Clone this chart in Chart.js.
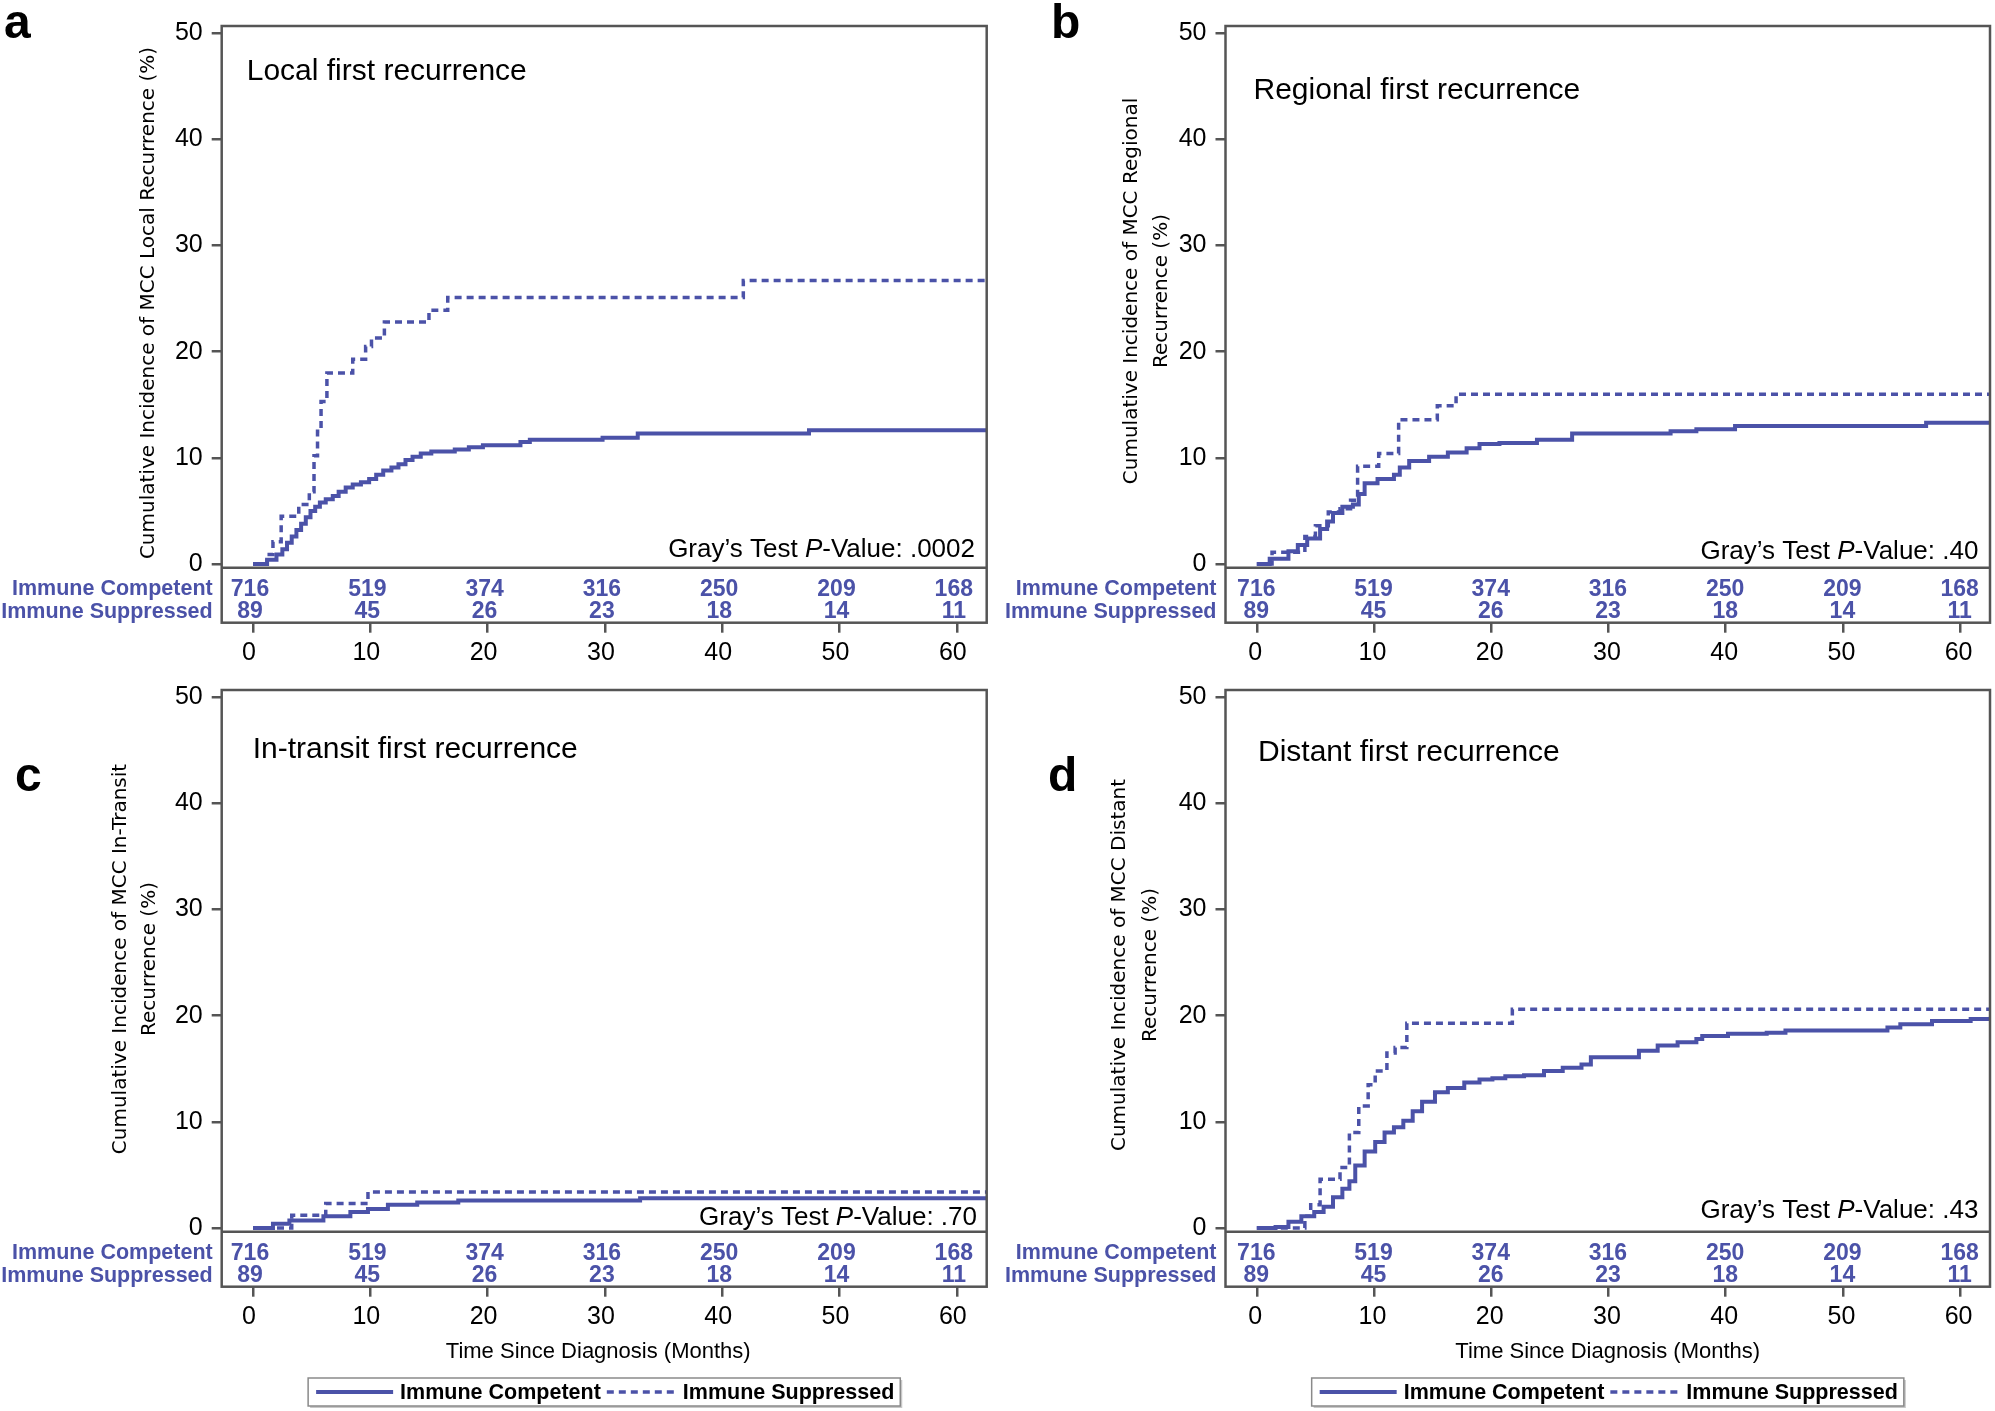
<!DOCTYPE html>
<html>
<head>
<meta charset="utf-8">
<title>MCC first recurrence by immune status</title>
<script src="https://cdn.jsdelivr.net/npm/chart.js@4.4.1/dist/chart.umd.min.js"></script>
<style>
    html, body { margin: 0; padding: 0; background: #fff; }
    #fig { position: relative; width: 1995px; height: 1411px; overflow: hidden; background: #fff; }
    #fig canvas { position: absolute; }
</style>
</head>
<body>
<div id="fig">
    <canvas id="panelA" width="997" height="664" style="left:0px;top:0px"></canvas>
    <canvas id="panelB" width="998" height="664" style="left:997px;top:0px"></canvas>
    <canvas id="panelC" width="997" height="747" style="left:0px;top:664px"></canvas>
    <canvas id="panelD" width="998" height="747" style="left:997px;top:664px"></canvas>
</div>
<script>
// ------------------------------------------------------------
// Data
// ------------------------------------------------------------
const groupNames = ['Immune Competent', 'Immune Suppressed'];
const xTicks = [0, 10, 20, 30, 40, 50, 60];
const yTicks = [0, 10, 20, 30, 40, 50];
const atRiskCompetent = [716, 519, 374, 316, 250, 209, 168];
const atRiskSuppressed = [89, 45, 26, 23, 18, 14, 11];

// a - local
const localCompMonths = [0, 1.2, 2.0, 2.5, 2.9, 3.3, 3.7, 4.1, 4.5, 4.9, 5.3, 5.7, 6.2, 6.8, 7.3, 7.9, 8.5, 9.2, 9.9, 10.5, 11.1, 11.8, 12.4, 13.0, 13.6, 14.3, 15.2, 17.2, 18.4, 19.6, 22.8, 23.6, 29.8, 32.8, 47.4, 62.6];
const localCompPct    = [0, 0.4, 0.9, 1.4, 2.0, 2.6, 3.2, 3.8, 4.4, 5.0, 5.4, 5.8, 6.1, 6.4, 6.8, 7.2, 7.5, 7.7, 8.0, 8.4, 8.8, 9.1, 9.4, 9.8, 10.1, 10.4, 10.6, 10.8, 11.0, 11.2, 11.5, 11.7, 11.9, 12.3, 12.6, 12.6];
const localSuppMonths = [0, 1.2, 1.7, 2.4, 3.9, 4.8, 5.2, 5.5, 5.8, 6.3, 8.5, 9.6, 10.1, 11.2, 15.0, 16.6, 41.8, 62.6];
const localSuppPct    = [0, 0.9, 2.1, 4.5, 5.6, 6.8, 10.2, 12.5, 15.3, 18.0, 19.3, 20.5, 21.3, 22.8, 23.9, 25.1, 26.7, 26.7];

// b - regional
const regionalCompMonths = [0, 1.1, 2.7, 3.5, 4.3, 5.4, 6.0, 6.5, 7.3, 8.2, 8.7, 9.2, 10.3, 11.7, 12.2, 13.0, 14.7, 16.3, 17.9, 19.0, 20.7, 23.9, 26.9, 35.3, 37.5, 40.8, 57.1, 62.6];
const regionalCompPct    = [0, 0.5, 1.2, 1.8, 2.4, 3.3, 4.0, 4.8, 5.4, 5.6, 6.6, 7.6, 8.0, 8.4, 9.1, 9.7, 10.1, 10.5, 10.9, 11.3, 11.4, 11.7, 12.3, 12.5, 12.7, 13.0, 13.3, 13.3];
const regionalSuppMonths = [0, 1.3, 4.1, 5.0, 6.1, 7.1, 8.0, 8.6, 10.4, 12.1, 15.4, 17.0, 62.6];
const regionalSuppPct    = [0, 1.1, 2.6, 3.6, 4.9, 5.2, 6.0, 9.2, 10.4, 13.6, 14.9, 16.0, 16.0];

// c - in-transit
const transitCompMonths = [0, 1.7, 3.1, 6.0, 8.3, 9.8, 11.5, 14.0, 17.5, 33.0, 62.6];
const transitCompPct    = [0, 0.4, 0.7, 1.1, 1.5, 1.8, 2.2, 2.4, 2.6, 2.8, 2.8];
const transitSuppMonths = [0, 3.3, 6.2, 9.8, 62.6];
const transitSuppPct    = [0, 1.2, 2.3, 3.4, 3.4];

// d - distant
const distantCompMonths = [0, 1.6, 2.7, 3.8, 4.9, 5.7, 6.5, 7.3, 7.9, 8.4, 9.2, 10.1, 10.9, 11.7, 12.5, 13.3, 14.1, 15.2, 16.3, 17.7, 19.0, 20.1, 21.2, 22.8, 24.5, 26.1, 27.7, 28.5, 32.6, 34.2, 35.9, 37.5, 38.0, 40.2, 43.5, 45.1, 53.8, 54.9, 57.6, 60.9, 62.6];
const distantCompPct    = [0, 0.1, 0.6, 1.1, 1.5, 2.0, 2.9, 3.7, 4.4, 5.9, 7.2, 8.1, 9.0, 9.5, 10.1, 11.0, 11.9, 12.8, 13.2, 13.7, 14.0, 14.1, 14.3, 14.4, 14.8, 15.1, 15.4, 16.1, 16.7, 17.2, 17.5, 17.8, 18.1, 18.3, 18.4, 18.6, 18.9, 19.2, 19.5, 19.7, 19.9];
const distantSuppMonths = [0, 4.1, 4.6, 5.4, 7.1, 7.9, 8.7, 9.5, 10.1, 11.1, 11.8, 12.8, 21.8, 62.6];
const distantSuppPct    = [0, 1.1, 2.2, 4.6, 5.7, 9.0, 11.5, 13.5, 14.8, 16.5, 17.0, 19.3, 20.6, 20.6];

// ------------------------------------------------------------
// Styling
// ------------------------------------------------------------
const SERIES_COLOR = '#4b52a8';
const FRAME_COLOR = '#555555';
const SANS = "'Liberation Sans', Arial, sans-serif";
const AXIS_TITLE_FONT = "20px 'DejaVu Sans', Verdana, sans-serif";

const toPoints = (months, pct) => months.map((m, i) => ({ x: m, y: pct[i] }));

/**
 * Frame, at-risk table, annotations and (for the bottom row) axis title + legend
 */
const panelDecor = {
    id: 'panelDecor',
    afterDraw(chart, args, opts) {
        const { ctx, chartArea: ca, scales: { x, y } } = chart;
        ctx.save();

        // box round plot + risk table
        ctx.strokeStyle = FRAME_COLOR;
        ctx.lineWidth = 2.5;
        ctx.strokeRect(ca.left, ca.top, ca.right - ca.left, ca.bottom - ca.top);
        const sepY = y.getPixelForValue(-0.35);
        ctx.beginPath();
        ctx.moveTo(ca.left, sepY);
        ctx.lineTo(ca.right, sepY);
        ctx.stroke();

        // numbers at risk
        ctx.fillStyle = SERIES_COLOR;
        ctx.textBaseline = 'middle';
        const rows = [[atRiskCompetent, sepY + 21.5], [atRiskSuppressed, sepY + 44]];
        ctx.font = `bold 21.5px ${SANS}`;
        ctx.textAlign = 'right';
        rows.forEach(([, ry], i) => ctx.fillText(groupNames[i], ca.left - 9, ry));
        ctx.font = `bold 23px ${SANS}`;
        ctx.textAlign = 'center';
        rows.forEach(([vals, ry]) => {
            vals.forEach((v, i) => ctx.fillText(String(v), x.getPixelForValue(xTicks[i]) + opts.labelDx + 1, ry));
        });

        // panel letter
        ctx.fillStyle = '#000';
        ctx.textAlign = 'left';
        ctx.textBaseline = 'alphabetic';
        ctx.font = `bold 48px ${SANS}`;
        ctx.fillText(opts.letter, opts.letterX, opts.letterY);

        // panel title
        ctx.font = `30px ${SANS}`;
        ctx.fillText(opts.title, ca.left + opts.titleDx, opts.titleY);

        // Gray's test
        const pieces = [['Gray\u2019s Test ', ''], ['P', 'italic '], ['-Value: ' + opts.pValue, '']];
        let total = 0;
        pieces.forEach(p => { ctx.font = `${p[1]}26px ${SANS}`; total += ctx.measureText(p[0]).width; });
        let px = ca.right - opts.pDx - total;
        pieces.forEach(p => {
            ctx.font = `${p[1]}26px ${SANS}`;
            ctx.fillText(p[0], px, opts.pY);
            px += ctx.measureText(p[0]).width;
        });

        // y axis title
        ctx.font = AXIS_TITLE_FONT;
        ctx.textAlign = 'center';
        ctx.textBaseline = 'middle';
        opts.yTitle.forEach((line, i) => {
            ctx.save();
            ctx.translate(opts.yTitleX[i], opts.yTitleY);
            ctx.rotate(-Math.PI / 2);
            ctx.fillText(line, 0, 0);
            ctx.restore();
        });

        if (opts.footer) {
            const cx = (ca.left + ca.right) / 2;
            ctx.font = `22px ${SANS}`;
            ctx.fillText('Time Since Diagnosis (Months)', cx + opts.xTitleDx, 688);

            // legend
            ctx.font = `bold 21.5px ${SANS}`;
            const items = chart.data.datasets.map((ds, i) => ({
                label: ds.label, dash: ds.borderDash || [], lw: ds.borderWidth,
                len: i === 0 ? 77 : 69, tw: ctx.measureText(ds.label).width,
            }));
            const boxW = 8 + items.reduce((s, it) => s + it.len + 7 + it.tw + 6, 0);
            const bx = cx - boxW / 2, by = 714, bh = 28;
            ctx.fillStyle = '#c8c8c8';
            ctx.fillRect(bx + 2, by + 2, boxW, bh);
            ctx.fillStyle = '#fff';
            ctx.fillRect(bx, by, boxW, bh);
            ctx.strokeStyle = '#8a8a8a';
            ctx.lineWidth = 1.5;
            ctx.strokeRect(bx, by, boxW, bh);
            let lx = bx + 8;
            const ly = by + bh / 2;
            items.forEach(it => {
                ctx.strokeStyle = SERIES_COLOR;
                ctx.lineWidth = it.lw;
                ctx.setLineDash(it.dash);
                ctx.beginPath();
                ctx.moveTo(lx, ly);
                ctx.lineTo(lx + it.len, ly);
                ctx.stroke();
                ctx.setLineDash([]);
                lx += it.len + 7;
                ctx.fillStyle = '#000';
                ctx.textAlign = 'left';
                ctx.fillText(it.label, lx, ly + 1);
                lx += it.tw + 6;
            });
        }
        ctx.restore();
    },
};

const panels = [
    {
        canvas: 'panelA', letter: 'a', letterX: 4, letterY: 38,
        title: 'Local first recurrence', titleDx: 25, titleY: 80,
        yTitle: ['Cumulative Incidence of MCC Local Recurrence (%)'], yTitleX: [149], yTitleY: 303,
        pValue: '.0002', pDx: 11.7, pY: 556.5, labelDx: -4,
        pad: { left: 121.7, right: 10.3, bottom: 1.3 }, footer: false, xTitleDx: 0,
        comp: toPoints(localCompMonths, localCompPct), supp: toPoints(localSuppMonths, localSuppPct),
    },
    {
        canvas: 'panelB', letter: 'b', letterX: 54, letterY: 38,
        title: 'Regional first recurrence', titleDx: 28, titleY: 99.3,
        yTitle: ['Cumulative Incidence of MCC Regional', 'Recurrence (%)'], yTitleX: [135, 165], yTitleY: 291,
        pValue: '.40', pDx: 11.6, pY: 559, labelDx: -1.5,
        pad: { left: 128.5, right: 5, bottom: 1.3 }, footer: false, xTitleDx: 0,
        comp: toPoints(regionalCompMonths, regionalCompPct), supp: toPoints(regionalSuppMonths, regionalSuppPct),
    },
    {
        canvas: 'panelC', letter: 'c', letterX: 15, letterY: 127,
        title: 'In-transit first recurrence', titleDx: 31, titleY: 94,
        yTitle: ['Cumulative Incidence of MCC In-Transit', 'Recurrence (%)'], yTitleX: [121, 150], yTitleY: 295,
        pValue: '.70', pDx: 9.7, pY: 560.5, labelDx: -4,
        pad: { left: 121.7, right: 10.3, bottom: 84.3 }, footer: true, xTitleDx: -6,
        comp: toPoints(transitCompMonths, transitCompPct), supp: toPoints(transitSuppMonths, transitSuppPct),
    },
    {
        canvas: 'panelD', letter: 'd', letterX: 51, letterY: 127,
        title: 'Distant first recurrence', titleDx: 32.5, titleY: 97,
        yTitle: ['Cumulative Incidence of MCC Distant', 'Recurrence (%)'], yTitleX: [123, 154], yTitleY: 301,
        pValue: '.43', pDx: 11.6, pY: 554, labelDx: -1.5,
        pad: { left: 128.5, right: 5, bottom: 84.3 }, footer: true, xTitleDx: 0,
        comp: toPoints(distantCompMonths, distantCompPct), supp: toPoints(distantSuppMonths, distantSuppPct),
    },
];

function createPanel(p) {
    const canvas = document.getElementById(p.canvas);
    if (!canvas) return null;
    const tickGrid = { drawOnChartArea: false, drawTicks: true, tickLength: 10, color: FRAME_COLOR, lineWidth: 2.5 };

    return new Chart(canvas.getContext('2d'), {
        type: 'line',
        data: {
            datasets: [
                {
                    label: groupNames[0], data: p.comp, stepped: 'before',
                    borderColor: SERIES_COLOR, borderWidth: 4, pointRadius: 0, fill: false,
                    borderJoinStyle: 'miter', borderCapStyle: 'butt',
                },
                {
                    label: groupNames[1], data: p.supp, stepped: 'before',
                    borderColor: SERIES_COLOR, borderWidth: 3.5, borderDash: [7, 5], pointRadius: 0, fill: false,
                    borderJoinStyle: 'miter', borderCapStyle: 'butt',
                },
            ],
        },
        options: {
            responsive: false,
            devicePixelRatio: 1,
            animation: false,
            layout: { padding: { left: p.pad.left, top: 26, right: p.pad.right, bottom: p.pad.bottom } },
            plugins: {
                legend: { display: false },
                tooltip: { enabled: false },
                panelDecor: p,
            },
            scales: {
                x: {
                    type: 'linear', min: -2.67, max: 62.55,
                    afterBuildTicks: s => { s.ticks = xTicks.map(v => ({ value: v })); },
                    afterFit: s => { s.height = 40; },
                    grid: tickGrid,
                    border: { display: false },
                    ticks: { color: '#000', font: { family: SANS, size: 25 }, padding: 5, labelOffset: p.labelDx, maxRotation: 0, autoSkip: false },
                },
                y: {
                    type: 'linear', min: -5.53, max: 50.69,
                    afterBuildTicks: s => { s.ticks = yTicks.map(v => ({ value: v })); },
                    afterFit: s => { s.width = 100; },
                    grid: tickGrid,
                    border: { display: false },
                    ticks: { color: '#000', font: { family: SANS, size: 25 }, padding: 9, autoSkip: false },
                },
            },
        },
        plugins: [panelDecor],
    });
}

panels.forEach(createPanel);
</script>
</body>
</html>
